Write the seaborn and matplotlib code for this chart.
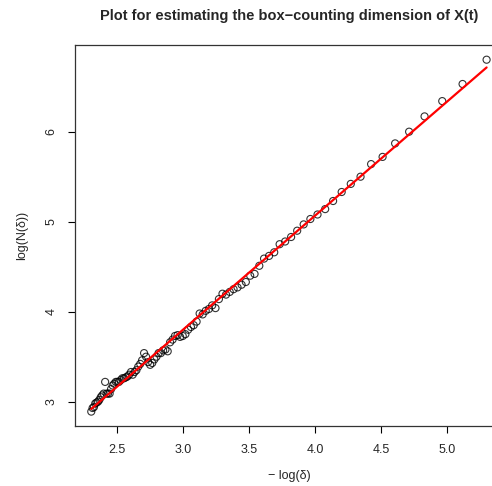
import numpy as np
import pandas as pd
import matplotlib
matplotlib.use("Agg")
import matplotlib.pyplot as plt
import seaborn as sns

# -log(delta) for each box size (ascending)
neg_log_delta = [
    2.303, 2.313, 2.323, 2.333, 2.343, 2.354, 2.364, 2.375, 2.386, 2.397,
    2.408, 2.419, 2.430, 2.442, 2.453, 2.465, 2.477, 2.489, 2.501, 2.513,
    2.526, 2.538, 2.551, 2.564, 2.577, 2.590, 2.604, 2.617, 2.631, 2.645,
    2.659, 2.674, 2.688, 2.703, 2.718, 2.733, 2.749, 2.765, 2.781, 2.797,
    2.813, 2.830, 2.847, 2.865, 2.882, 2.900, 2.919, 2.937, 2.957, 2.976,
    2.996, 3.016, 3.037, 3.058, 3.079, 3.101, 3.124, 3.147, 3.170, 3.194,
    3.219, 3.244, 3.270, 3.297, 3.324, 3.352, 3.381, 3.411, 3.442, 3.474,
    3.507, 3.540, 3.576, 3.612, 3.650, 3.689, 3.730, 3.772, 3.817, 3.863,
    3.912, 3.963, 4.017, 4.075, 4.135, 4.200, 4.269, 4.343, 4.423, 4.510,
    4.605, 4.711, 4.828, 4.962, 5.116, 5.298,
]

# log(N(delta)), same order
log_N = [
    2.89, 2.93, 2.94, 2.98, 2.99, 3.00, 3.02, 3.05, 3.07, 3.09,
    3.22, 3.09, 3.09, 3.09, 3.14, 3.18, 3.20, 3.22, 3.22, 3.22,
    3.24, 3.26, 3.26, 3.27, 3.28, 3.30, 3.33, 3.30, 3.33, 3.35,
    3.39, 3.42, 3.46, 3.54, 3.50, 3.44, 3.41, 3.43, 3.47, 3.50,
    3.54, 3.54, 3.57, 3.58, 3.56, 3.66, 3.69, 3.73, 3.74, 3.72,
    3.73, 3.75, 3.80, 3.83, 3.85, 3.89, 3.98, 3.97, 4.01, 4.03,
    4.07, 4.04, 4.14, 4.20, 4.19, 4.22, 4.25, 4.27, 4.30, 4.33,
    4.40, 4.42, 4.51, 4.59, 4.62, 4.66, 4.75, 4.78, 4.83, 4.90,
    4.97, 5.03, 5.08, 5.14, 5.23, 5.33, 5.42, 5.50, 5.64, 5.72,
    5.87, 6.00, 6.17, 6.34, 6.53, 6.80,
]

x_ticks = [2.5, 3.0, 3.5, 4.0, 4.5, 5.0]
y_ticks = [3, 4, 5, 6]

df = pd.DataFrame({"x": neg_log_delta, "y": log_N})

sns.set_style("white")
plt.rcParams["font.family"] = ["Liberation Sans", "DejaVu Sans"]

fig = plt.figure(figsize=(4.92, 4.86), dpi=100)
ax = fig.add_axes([75.3 / 492, 60 / 486, (502.7 - 75.3) / 492, (426 - 45.3) / 486])

sns.regplot(
    data=df, x="x", y="y", ax=ax, ci=None,
    scatter_kws=dict(facecolors="none", edgecolors="black", s=26, linewidths=0.8),
    line_kws=dict(color="red", lw=1.6),
)

ax.set_xlim(2.182, 5.42)
ax.set_ylim(2.73, 6.96)
ax.set_xticks(x_ticks)
ax.set_xticklabels([f"{v:.1f}" for v in x_ticks])
ax.set_yticks(y_ticks)
ax.set_yticklabels([str(v) for v in y_ticks], rotation=90, va="center")

ax.tick_params(axis="both", direction="out", length=5, width=0.8, color="black",
               labelsize=9, pad=8, bottom=True, left=True)
for s in ax.spines.values():
    s.set_color("#333333")
    s.set_linewidth(0.9)

ax.set_xlabel("− log(δ)", fontsize=9, labelpad=10)
ax.set_ylabel("log(N(δ))", fontsize=9, labelpad=12)
ax.set_title("Plot for estimating the box−counting dimension of X(t)",
             fontsize=10.5, fontweight="bold", pad=18)

fig.savefig("out.png", dpi=100)
